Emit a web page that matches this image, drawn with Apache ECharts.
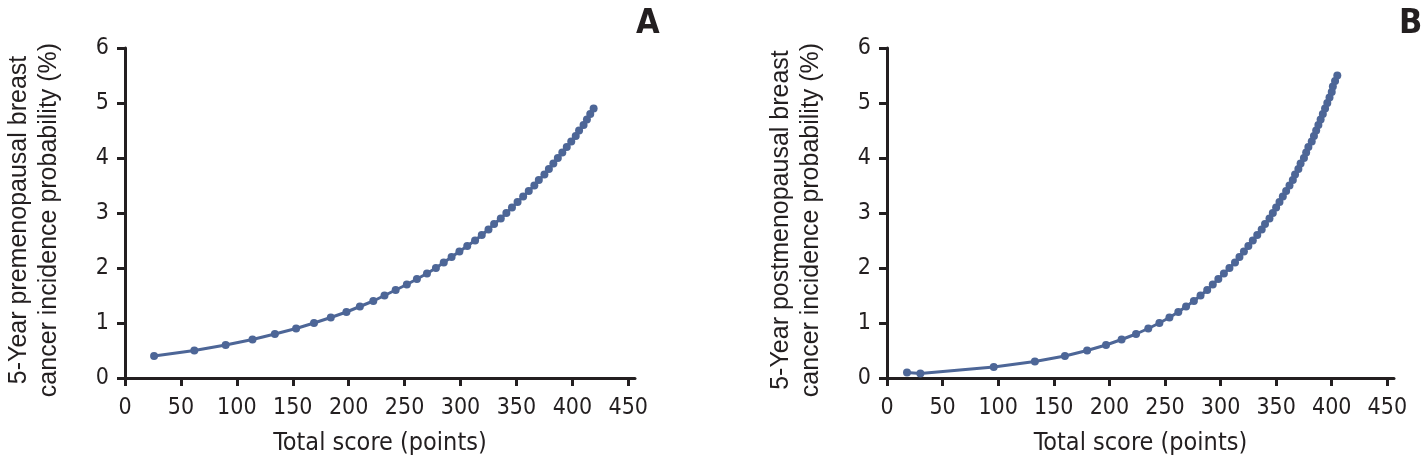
<!DOCTYPE html>
<html>
<head>
<meta charset="utf-8">
<script src="https://cdn.jsdelivr.net/npm/echarts@6/dist/echarts.min.js"></script>
<style>
html,body{margin:0;padding:0;background:#fff;}
#chart{width:1427px;height:461px;}
</style>
</head>
<body>
<div id="chart"></div>
<script>
// Panel A: premenopausal
const scoreA = [26, 62, 90, 114, 134, 153, 169, 184, 198, 210, 222, 232, 242, 252, 261, 270, 278, 285, 292, 299, 306, 313, 319, 325, 330, 336, 341, 346, 351, 356, 361, 366, 370, 375, 379, 383, 387, 391, 395, 399, 403, 406, 410, 413, 416, 419];
const probA = [0.4, 0.5, 0.6, 0.7, 0.8, 0.9, 1.0, 1.1, 1.2, 1.3, 1.4, 1.5, 1.6, 1.7, 1.8, 1.9, 2.0, 2.1, 2.2, 2.3, 2.4, 2.5, 2.6, 2.7, 2.8, 2.9, 3.0, 3.1, 3.2, 3.3, 3.4, 3.5, 3.6, 3.7, 3.8, 3.9, 4.0, 4.1, 4.2, 4.3, 4.4, 4.5, 4.6, 4.7, 4.8, 4.9];
// Panel B: postmenopausal
const scoreB = [18, 30, 96, 133, 160, 180, 197, 211, 224, 235, 245, 254, 262, 269, 276, 282, 288, 293, 298, 303, 308, 313, 317, 321, 325, 329, 333, 337, 340, 344, 347, 350, 353, 356, 359, 362, 365, 367, 370, 372, 375, 377, 379, 382, 384, 386, 388, 390, 392, 394, 396, 398, 400, 401, 403, 405];
const probB = [0.1, 0.08, 0.2, 0.3, 0.4, 0.5, 0.6, 0.7, 0.8, 0.9, 1.0, 1.1, 1.2, 1.3, 1.4, 1.5, 1.6, 1.7, 1.8, 1.9, 2.0, 2.1, 2.2, 2.3, 2.4, 2.5, 2.6, 2.7, 2.8, 2.9, 3.0, 3.1, 3.2, 3.3, 3.4, 3.5, 3.6, 3.7, 3.8, 3.9, 4.0, 4.1, 4.2, 4.3, 4.4, 4.5, 4.6, 4.7, 4.8, 4.9, 5.0, 5.1, 5.2, 5.3, 5.4, 5.5];

const xTicks = [0, 50, 100, 150, 200, 250, 300, 350, 400, 450];
const yTicks = [0, 1, 2, 3, 4, 5, 6];
const panelLabels = ['A', 'B'];
const yTitles = ['5-Year premenopausal breast\ncancer incidence probability (%)', '5-Year postmenopausal breast\ncancer incidence probability (%)'];
const xTitle = 'Total score (points)';

const axisColor = '#231f20';
const lineColor = '#4d6697';
const narrow = '"Liberation Sans Narrow", "DejaVu Sans Condensed", sans-serif';

function xAx(gi) {
  return {
    type: 'value', gridIndex: gi, min: 0, max: 456,
    name: xTitle, nameLocation: 'middle', nameGap: 53,
    nameTextStyle: { fontFamily: narrow, fontSize: 25, color: axisColor },
    axisLine: { onZero: false, lineStyle: { color: axisColor, width: 3 } },
    axisTick: { length: 8, customValues: xTicks, lineStyle: { color: axisColor, width: 3 } },
    axisLabel: { customValues: xTicks, fontFamily: narrow, fontSize: 23, color: axisColor, margin: 19 },
    splitLine: { show: false }
  };
}
function yAx(gi) {
  return {
    type: 'value', gridIndex: gi, min: 0, max: 6,
    name: yTitles[gi], nameLocation: 'middle', nameGap: 61, nameRotate: 90,
    nameTextStyle: { fontFamily: '"Liberation Sans", Arial, sans-serif', fontSize: 25, lineHeight: 30, color: axisColor, padding: [0, 14, 0, 0] },
    axisLine: { show: true, lineStyle: { color: axisColor, width: 3 } },
    axisTick: { show: true, length: 8, customValues: yTicks, lineStyle: { color: axisColor, width: 3 } },
    axisLabel: { customValues: yTicks, fontFamily: narrow, fontSize: 23, color: axisColor, margin: 16 },
    splitLine: { show: false }
  };
}
function ser(gi, xs, ys) {
  return {
    type: 'line', xAxisIndex: gi, yAxisIndex: gi,
    data: xs.map((x, i) => [x, ys[i]]),
    symbol: 'circle', symbolSize: 8, showSymbol: true,
    lineStyle: { color: lineColor, width: 3 },
    itemStyle: { color: lineColor },
    animation: false
  };
}

const chart = echarts.init(document.getElementById('chart'), null, { renderer: 'canvas' });
chart.setOption({
  animation: false,
  backgroundColor: '#fff',
  title: [
    { text: panelLabels[0], left: 631, top: 2, textStyle: { fontFamily: narrow, fontWeight: 'bold', fontSize: 34, color: axisColor } },
    { text: panelLabels[1], left: 1394, top: 2, textStyle: { fontFamily: narrow, fontWeight: 'bold', fontSize: 34, color: axisColor } }
  ],
  grid: [
    { left: 125, right: 792, top: 48, bottom: 82 },
    { left: 887, right: 33, top: 48, bottom: 82 }
  ],
  xAxis: [xAx(0), xAx(1)],
  yAxis: [yAx(0), yAx(1)],
  series: [ser(0, scoreA, probA), ser(1, scoreB, probB)]
});
</script>
</body>
</html>
